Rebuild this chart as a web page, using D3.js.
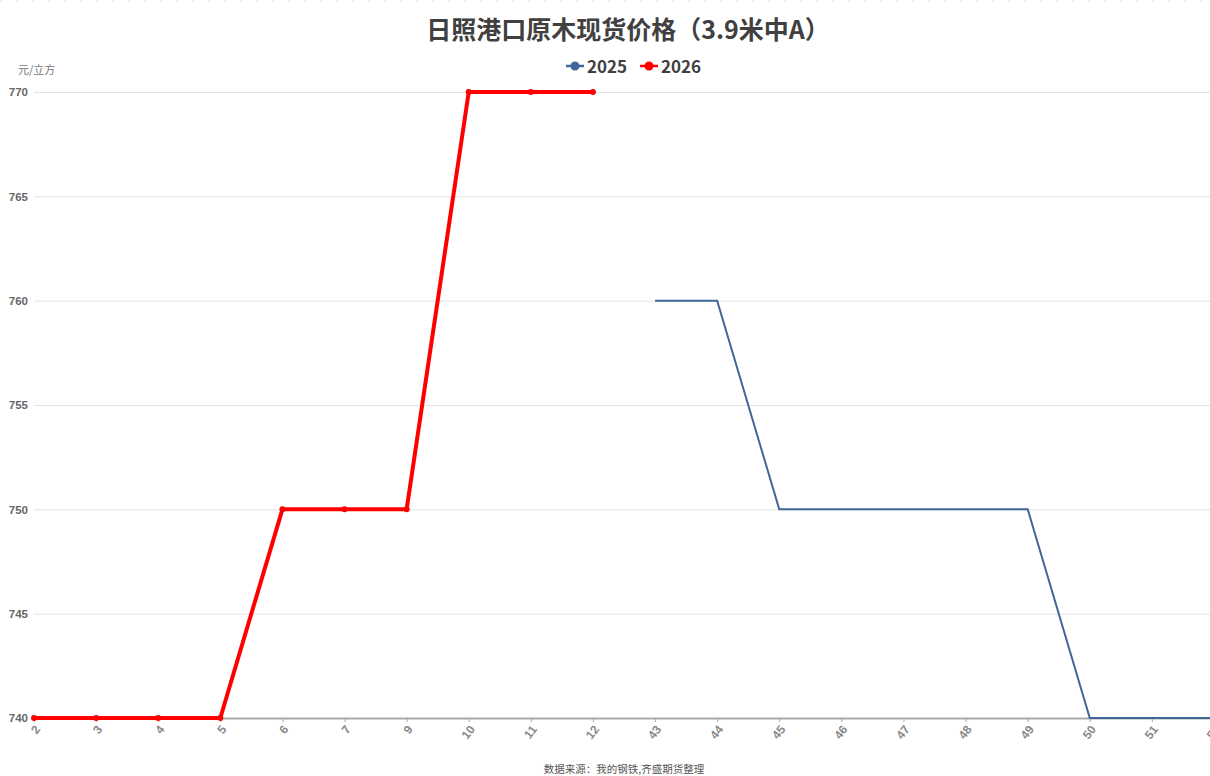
<!DOCTYPE html>
<html>
<head>
<meta charset="utf-8">
<script src="https://cdn.jsdelivr.net/npm/d3@7"></script>
<style>
  body { margin: 0; background: #fff; }
  svg { display: block; font-family: "Noto Sans CJK SC", "Noto Sans", sans-serif; }
</style>
</head>
<body>
<div id="chart-area"></div>
<script>
const WIDTH = 1210;
const HEIGHT = 776;

// weeks on the x axis
const weeks = ["2", "3", "4", "5", "6", "7", "9", "10", "11", "12",
  "43", "44", "45", "46", "47", "48", "49", "50", "51", "52"];
const price2025 = [null, null, null, null, null, null, null, null, null, null,
  760, 760, 750, 750, 750, 750, 750, 740, 740, 740];
const price2026 = [740, 740, 740, 740, 750, 750, 750, 770, 770, 770,
  null, null, null, null, null, null, null, null, null, null];
const yTicks = [740, 745, 750, 755, 760, 765, 770];

const svg = d3.select("#chart-area").append("svg")
  .attr("width", WIDTH)
  .attr("height", HEIGHT);

// faint dashed border at top
svg.append("line")
  .attr("x1", 0).attr("x2", WIDTH)
  .attr("y1", 1).attr("y2", 1)
  .attr("stroke", "#ddd")
  .attr("stroke-dasharray", "2,14");

// scales
const x = d3.scalePoint()
  .domain(weeks)
  .range([34, 1214]);

const y = d3.scaleLinear()
  .domain([740, 770])
  .range([718, 92]);

// title
svg.append("text")
  .attr("x", 628)
  .attr("y", 39)
  .attr("text-anchor", "middle")
  .attr("font-size", "25px")
  .attr("font-weight", "bold")
  .attr("fill", "#404040")
  .text("日照港口原木现货价格（3.9米中A）");

// legend
const legend = [
  {name: "2025", color: "#41679a", x: 566},
  {name: "2026", color: "#ff0000", x: 640}
];
legend.forEach(l => {
  const g = svg.append("g").attr("transform", `translate(${l.x}, 66)`);
  g.append("line").attr("x1", 0).attr("x2", 18).attr("stroke", l.color).attr("stroke-width", 2.5);
  g.append("circle").attr("cx", 9).attr("r", 4.5).attr("fill", l.color);
  g.append("text")
    .attr("x", 21).attr("y", 6.5)
    .attr("font-size", "17px")
    .attr("font-weight", "bold")
    .attr("fill", "#404040")
    .text(l.name);
});

// unit label
svg.append("text")
  .attr("x", 18).attr("y", 74)
  .attr("font-size", "11px")
  .attr("fill", "#777")
  .text("元/立方");

// gridlines + y labels
const yAxis = d3.axisLeft(y).tickValues(yTicks).tickSize(-(WIDTH - 34)).tickPadding(6);
const yAxisGroup = svg.append("g")
  .attr("transform", "translate(34, 0)")
  .call(yAxis);
yAxisGroup.select(".domain").remove();
yAxisGroup.selectAll(".tick line").attr("stroke", "#e3e3e3");
yAxisGroup.selectAll("text")
  .attr("font-size", "11.5px")
  .attr("font-weight", "bold")
  .attr("fill", "#666");

// x axis
const xAxis = d3.axisBottom(x).tickSize(4).tickSizeOuter(0);
const xAxisGroup = svg.append("g")
  .attr("transform", "translate(0, 718)")
  .call(xAxis);
xAxisGroup.select(".domain").attr("stroke", "#aaa").attr("stroke-width", 2);
xAxisGroup.selectAll(".tick line").attr("stroke", "#aaa");
xAxisGroup.selectAll("text")
  .attr("font-size", "12px")
  .attr("font-weight", "bold")
  .attr("fill", "#888")
  .attr("text-anchor", "end")
  .attr("x", 0)
  .attr("y", 0)
  .attr("dy", "0.35em")
  .attr("transform", "translate(3, 9) rotate(-52)");

// lines
const line = d3.line()
  .defined(d => d.v != null)
  .x(d => x(d.w))
  .y(d => y(d.v));

const data2025 = weeks.map((w, i) => ({w, v: price2025[i]}));
const data2026 = weeks.map((w, i) => ({w, v: price2026[i]}));

svg.append("path")
  .datum(data2025)
  .attr("d", line)
  .attr("fill", "none")
  .attr("stroke", "#41679a")
  .attr("stroke-width", 2);

svg.append("path")
  .datum(data2026)
  .attr("d", line)
  .attr("fill", "none")
  .attr("stroke", "#ff0000")
  .attr("stroke-width", 4)
  .attr("stroke-linejoin", "round");

svg.selectAll(".dot2026")
  .data(data2026.filter(d => d.v != null))
  .enter().append("circle")
  .attr("class", "dot2026")
  .attr("cx", d => x(d.w))
  .attr("cy", d => y(d.v))
  .attr("r", 3)
  .attr("fill", "#ff0000");

// source
svg.append("text")
  .attr("x", 624).attr("y", 773)
  .attr("text-anchor", "middle")
  .attr("font-size", "10.5px")
  .attr("fill", "#555")
  .text("数据来源：我的钢铁,齐盛期货整理");
</script>
</body>
</html>
